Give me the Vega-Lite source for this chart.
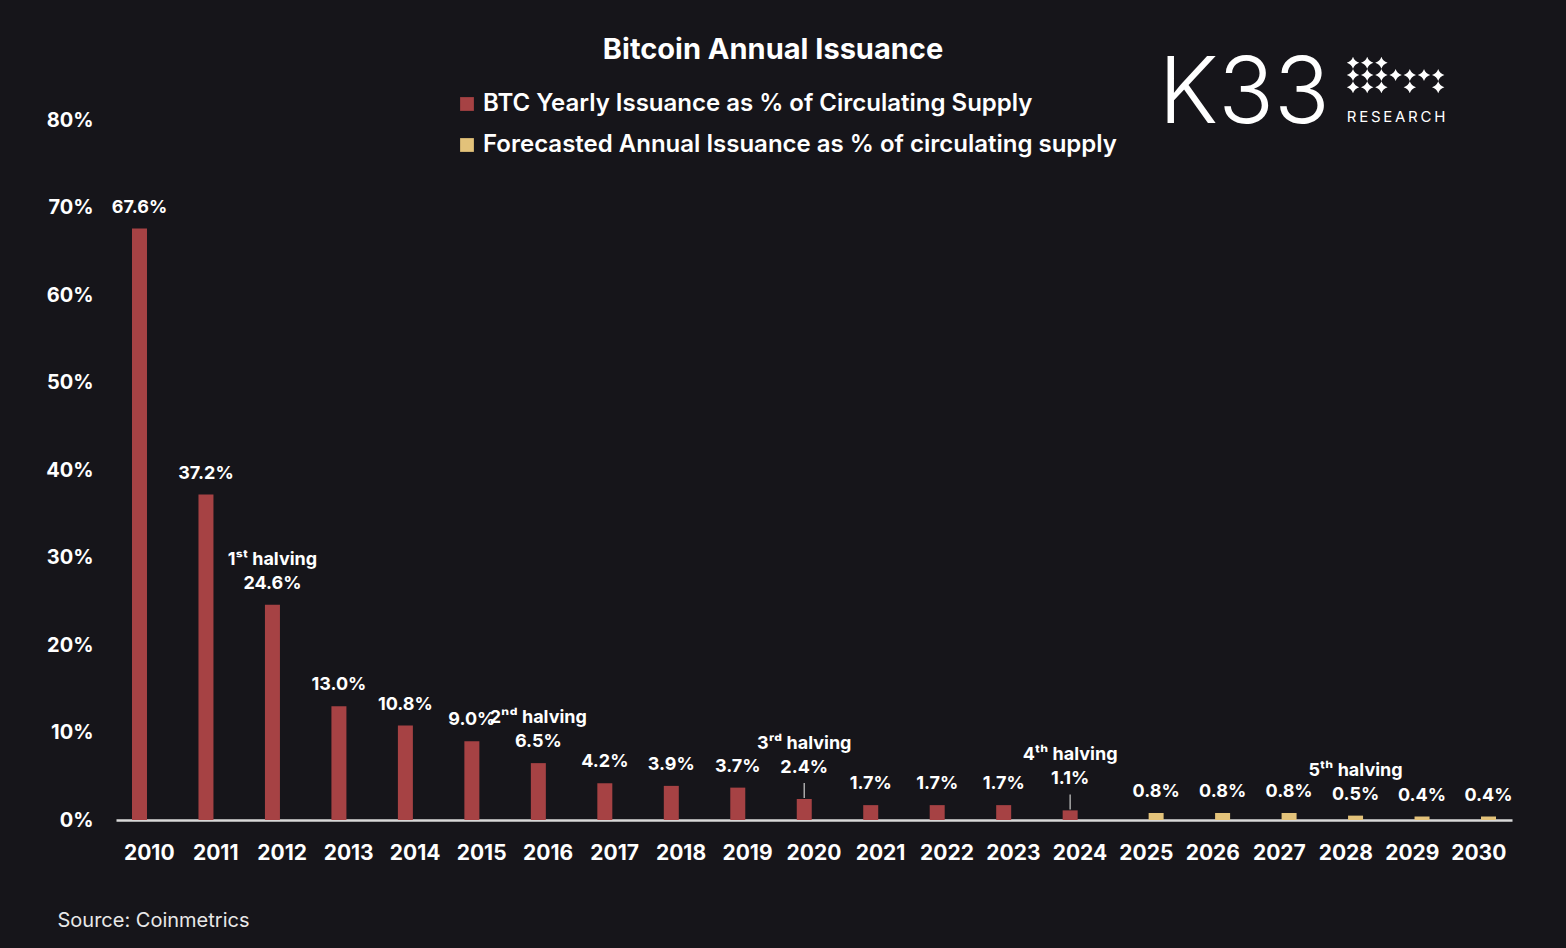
{
  "$schema": "https://vega.github.io/schema/vega-lite/v6.json",
  "description": "Bitcoin Annual Issuance: BTC yearly issuance as a share of circulating supply, 2010-2030.",
  "autosize": {"type": "none"},
  "padding": {"left": 116, "top": 120, "right": 54, "bottom": 128},
  "width": 1396,
  "height": 700,
  "background": "#16151a",
  "config": {
    "view": {"stroke": null},
    "font": "Inter",
    "axis": {"labelColor": "#ffffff", "labelFont": "Inter", "labelFontWeight": "bold", "grid": false}
  },
  "data": {
    "values": [
      {"year": "2010", "series": "BTC Yearly Issuance as % of Circulating Supply", "value": 0.676, "halving": null},
      {"year": "2011", "series": "BTC Yearly Issuance as % of Circulating Supply", "value": 0.372, "halving": null},
      {"year": "2012", "series": "BTC Yearly Issuance as % of Circulating Supply", "value": 0.246, "halving": "1ˢᵗ halving"},
      {"year": "2013", "series": "BTC Yearly Issuance as % of Circulating Supply", "value": 0.130, "halving": null},
      {"year": "2014", "series": "BTC Yearly Issuance as % of Circulating Supply", "value": 0.108, "halving": null},
      {"year": "2015", "series": "BTC Yearly Issuance as % of Circulating Supply", "value": 0.090, "halving": null},
      {"year": "2016", "series": "BTC Yearly Issuance as % of Circulating Supply", "value": 0.065, "halving": "2ⁿᵈ halving"},
      {"year": "2017", "series": "BTC Yearly Issuance as % of Circulating Supply", "value": 0.042, "halving": null},
      {"year": "2018", "series": "BTC Yearly Issuance as % of Circulating Supply", "value": 0.039, "halving": null},
      {"year": "2019", "series": "BTC Yearly Issuance as % of Circulating Supply", "value": 0.037, "halving": null},
      {"year": "2020", "series": "BTC Yearly Issuance as % of Circulating Supply", "value": 0.024, "halving": "3ʳᵈ halving"},
      {"year": "2021", "series": "BTC Yearly Issuance as % of Circulating Supply", "value": 0.017, "halving": null},
      {"year": "2022", "series": "BTC Yearly Issuance as % of Circulating Supply", "value": 0.017, "halving": null},
      {"year": "2023", "series": "BTC Yearly Issuance as % of Circulating Supply", "value": 0.017, "halving": null},
      {"year": "2024", "series": "BTC Yearly Issuance as % of Circulating Supply", "value": 0.011, "halving": "4ᵗʰ halving"},
      {"year": "2025", "series": "Forecasted Annual Issuance as % of circulating supply", "value": 0.008, "halving": null},
      {"year": "2026", "series": "Forecasted Annual Issuance as % of circulating supply", "value": 0.008, "halving": null},
      {"year": "2027", "series": "Forecasted Annual Issuance as % of circulating supply", "value": 0.008, "halving": null},
      {"year": "2028", "series": "Forecasted Annual Issuance as % of circulating supply", "value": 0.005, "halving": "5ᵗʰ halving"},
      {"year": "2029", "series": "Forecasted Annual Issuance as % of circulating supply", "value": 0.004, "halving": null},
      {"year": "2030", "series": "Forecasted Annual Issuance as % of circulating supply", "value": 0.004, "halving": null}
    ]
  },
  "encoding": {
    "x": {
      "field": "year",
      "type": "ordinal",
      "scale": {"paddingInner": 0.4133, "paddingOuter": 0.2067},
      "axis": {
        "labelAngle": 0,
        "ticks": false,
        "tickSize": 0,
        "labelPadding": 22,
        "labelFontSize": 21,
        "domainColor": "#d9d9d9",
        "domainWidth": 2.5,
        "title": "Source: Coinmetrics",
        "titleColor": "#e8e8e8",
        "titleFontSize": 20,
        "titleFontWeight": "normal",
        "titleAnchor": "start",
        "titleAlign": "left",
        "titleBaseline": "alphabetic",
        "titleX": -59,
        "titleY": 106
      }
    },
    "y": {
      "field": "value",
      "type": "quantitative",
      "scale": {"domain": [0, 0.8], "nice": false},
      "axis": {
        "values": [0, 0.1, 0.2, 0.3, 0.4, 0.5, 0.6, 0.7, 0.8],
        "format": ".0%",
        "domain": false,
        "ticks": false,
        "tickSize": 0,
        "labelPadding": 23,
        "labelFontSize": 20,
        "title": null
      }
    }
  },
  "layer": [
    {
      "mark": {"type": "bar"},
      "encoding": {
        "xOffset": {
          "field": "series",
          "type": "nominal",
          "scale": {
            "domain": ["BTC Yearly Issuance as % of Circulating Supply", "Forecasted Annual Issuance as % of circulating supply"],
            "paddingInner": 0.2308,
            "paddingOuter": 0.1154
          }
        },
        "color": {
          "field": "series",
          "type": "nominal",
          "scale": {
            "domain": ["BTC Yearly Issuance as % of Circulating Supply", "Forecasted Annual Issuance as % of circulating supply"],
            "range": ["#a64244", "#e3c27a"]
          },
          "legend": {
            "orient": "none",
            "legendX": 339,
            "legendY": -28,
            "direction": "vertical",
            "title": null,
            "symbolType": "square",
            "symbolSize": 190,
            "symbolStrokeWidth": 0,
            "labelFontSize": 24,
            "labelFontWeight": 600,
            "labelColor": "#ffffff",
            "labelLimit": 0,
            "labelOffset": 4,
            "rowPadding": 17,
            "padding": 0
          }
        }
      }
    },
    {
      "transform": [{"filter": "datum.year != '2020' && datum.year != '2024'"}],
      "mark": {"type": "text", "baseline": "alphabetic", "dy": -16, "fontSize": 18, "fontWeight": "bold", "color": "#ffffff"},
      "encoding": {
        "xOffset": {"field": "series", "type": "nominal"},
        "text": {"field": "value", "type": "quantitative", "format": ".1%"}
      }
    },
    {
      "transform": [{"filter": "datum.year == '2020' || datum.year == '2024'"}],
      "mark": {"type": "text", "baseline": "alphabetic", "dy": -26, "fontSize": 18, "fontWeight": "bold", "color": "#ffffff"},
      "encoding": {
        "xOffset": {"field": "series", "type": "nominal"},
        "text": {"field": "value", "type": "quantitative", "format": ".1%"}
      }
    },
    {
      "transform": [{"filter": "datum.halving != null && datum.year != '2020' && datum.year != '2024'"}],
      "mark": {"type": "text", "baseline": "alphabetic", "dy": -40, "fontSize": 18, "fontWeight": "bold", "color": "#ffffff"},
      "encoding": {
        "xOffset": {"field": "series", "type": "nominal"},
        "text": {"field": "halving", "type": "nominal"}
      }
    },
    {
      "transform": [{"filter": "datum.year == '2020' || datum.year == '2024'"}],
      "mark": {"type": "text", "baseline": "alphabetic", "dy": -50, "fontSize": 18, "fontWeight": "bold", "color": "#ffffff"},
      "encoding": {
        "xOffset": {"field": "series", "type": "nominal"},
        "text": {"field": "halving", "type": "nominal"}
      }
    },
    {
      "transform": [{"filter": "datum.year == '2020' || datum.year == '2024'"}],
      "mark": {"type": "rule", "color": "#a8a8a8", "strokeWidth": 1.5, "yOffset": -16, "y2Offset": -1},
      "encoding": {
        "xOffset": {"field": "series", "type": "nominal"},
        "y2": {"field": "value"}
      }
    },
    {
      "transform": [{"filter": "datum.year == '2020'"}],
      "mark": {"type": "text", "align": "center", "baseline": "alphabetic", "dx": -41, "dy": -61, "fontSize": 29, "fontWeight": "bold", "color": "#ffffff"},
      "encoding": {
        "y": {"datum": 0.8, "type": "quantitative"},
        "text": {"value": "Bitcoin Annual Issuance"}
      }
    },
    {
      "transform": [{"filter": "datum.year == '2028'"}],
      "mark": {"type": "text", "align": "left", "baseline": "alphabetic", "dx": -187, "dy": 3, "fontSize": 92, "fontWeight": 300, "color": "#ffffff"},
      "encoding": {
        "y": {"datum": 0.8, "type": "quantitative"},
        "text": {"value": "K33"}
      }
    },
    {
      "transform": [{"filter": "datum.year == '2028'"}],
      "mark": {"type": "text", "align": "left", "baseline": "alphabetic", "dx": 1, "dy": 2, "fontSize": 15, "fontWeight": 400, "color": "#ffffff"},
      "encoding": {
        "y": {"datum": 0.8, "type": "quantitative"},
        "text": {"value": "R\u2009E\u2009S\u2009E\u2009A\u2009R\u2009C\u2009H"}
      }
    },
    {
      "transform": [{"filter": "datum.year == '2028'"}],
      "mark": {
        "type": "point",
        "filled": true,
        "opacity": 1,
        "color": "#ffffff",
        "strokeWidth": 0,
        "size": 4,
        "shape": "M7.2,-63.3Q8.6,-58.7 13.4,-57.3Q8.6,-55.9 7.2,-51.3Q5.8,-55.9 1,-57.3Q5.8,-58.7 7.2,-63.3ZM21.4,-63.3Q22.8,-58.7 27.6,-57.3Q22.8,-55.9 21.4,-51.3Q20,-55.9 15.2,-57.3Q20,-58.7 21.4,-63.3ZM35.6,-63.3Q37,-58.7 41.8,-57.3Q37,-55.9 35.6,-51.3Q34.2,-55.9 29.4,-57.3Q34.2,-58.7 35.6,-63.3ZM7.2,-51Q8.6,-46.4 13.4,-45Q8.6,-43.6 7.2,-39Q5.8,-43.6 1,-45Q5.8,-46.4 7.2,-51ZM21.4,-51Q22.8,-46.4 27.6,-45Q22.8,-43.6 21.4,-39Q20,-43.6 15.2,-45Q20,-46.4 21.4,-51ZM35.6,-51Q37,-46.4 41.8,-45Q37,-43.6 35.6,-39Q34.2,-43.6 29.4,-45Q34.2,-46.4 35.6,-51ZM49.8,-51Q51.2,-46.4 56,-45Q51.2,-43.6 49.8,-39Q48.4,-43.6 43.6,-45Q48.4,-46.4 49.8,-51ZM64,-51Q65.4,-46.4 70.2,-45Q65.4,-43.6 64,-39Q62.6,-43.6 57.8,-45Q62.6,-46.4 64,-51ZM78.2,-51Q79.6,-46.4 84.4,-45Q79.6,-43.6 78.2,-39Q76.8,-43.6 72,-45Q76.8,-46.4 78.2,-51ZM92.4,-51Q93.8,-46.4 98.6,-45Q93.8,-43.6 92.4,-39Q91,-43.6 86.2,-45Q91,-46.4 92.4,-51ZM7.2,-38.7Q8.6,-34.1 13.4,-32.7Q8.6,-31.3 7.2,-26.7Q5.8,-31.3 1,-32.7Q5.8,-34.1 7.2,-38.7ZM21.4,-38.7Q22.8,-34.1 27.6,-32.7Q22.8,-31.3 21.4,-26.7Q20,-31.3 15.2,-32.7Q20,-34.1 21.4,-38.7ZM35.6,-38.7Q37,-34.1 41.8,-32.7Q37,-31.3 35.6,-26.7Q34.2,-31.3 29.4,-32.7Q34.2,-34.1 35.6,-38.7ZM64,-38.7Q65.4,-34.1 70.2,-32.7Q65.4,-31.3 64,-26.7Q62.6,-31.3 57.8,-32.7Q62.6,-34.1 64,-38.7ZM92.4,-38.7Q93.8,-34.1 98.6,-32.7Q93.8,-31.3 92.4,-26.7Q91,-31.3 86.2,-32.7Q91,-34.1 92.4,-38.7Z"
      },
      "encoding": {
        "y": {"datum": 0.8, "type": "quantitative"}
      }
    }
  ]
}
